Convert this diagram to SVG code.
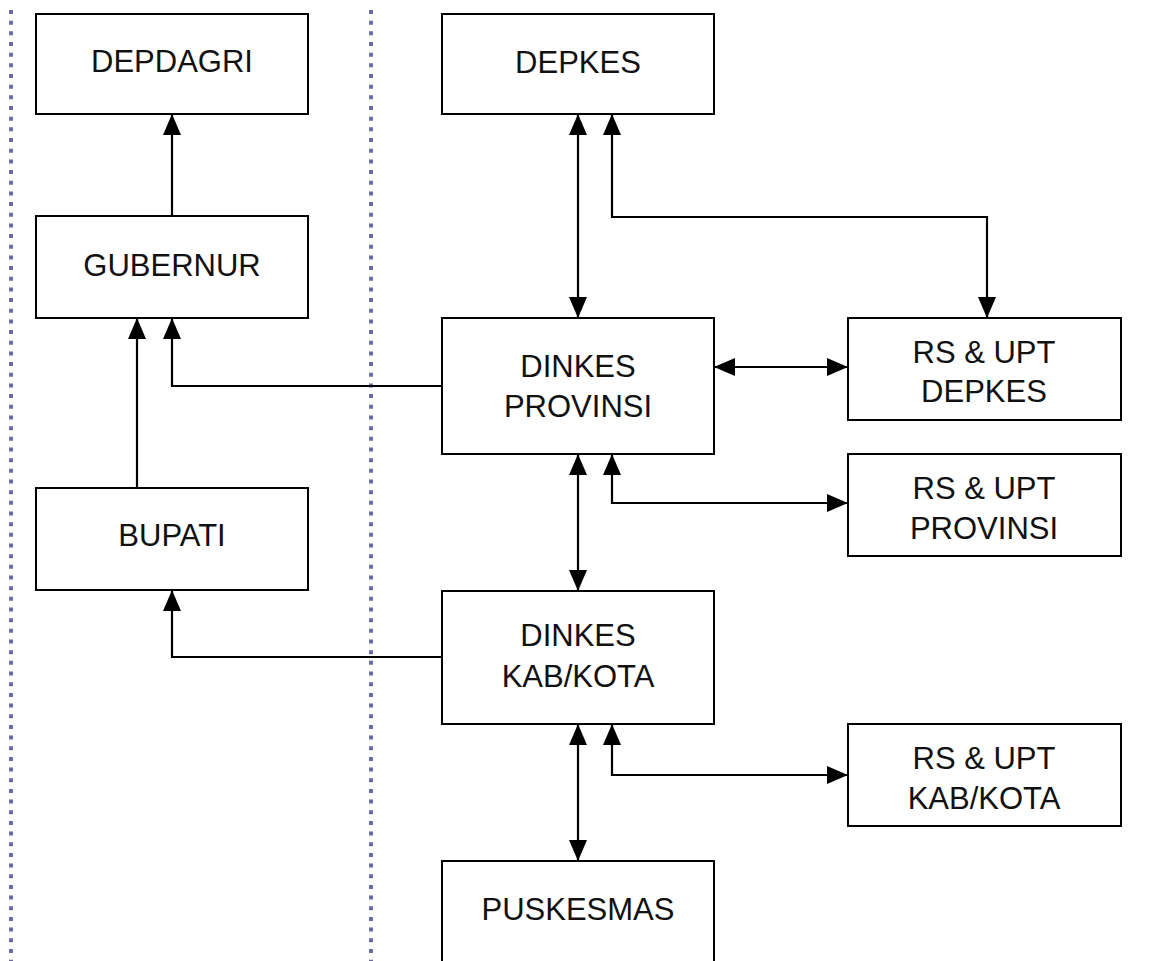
<svg xmlns="http://www.w3.org/2000/svg" width="1158" height="961" viewBox="0 0 1158 961">
<style>
.box{fill:#fff;stroke:#000;stroke-width:2}
.lbl{font-family:"Liberation Sans",Arial,sans-serif;font-size:31px;fill:#111;text-anchor:middle}
.con{fill:none;stroke:#000;stroke-width:2.2}
.dot{stroke:#6b6ba5;stroke-width:4;stroke-dasharray:4 6.67}
</style>
<defs>
<marker id="ah" markerUnits="userSpaceOnUse" markerWidth="22" markerHeight="20" refX="21" refY="9" orient="auto-start-reverse" viewBox="0 0 22 18">
<path d="M0,0 L21,9 L0,18 Z" fill="#000"/>
</marker>
</defs>
<rect width="1158" height="961" fill="#fff"/>
<g id="dividers">
<line class="dot" x1="11" y1="10" x2="11" y2="961"/>
<line class="dot" x1="371" y1="10" x2="371" y2="961"/>
</g>
<g id="connectors">
<path class="con" d="M172,216 V114" marker-end="url(#ah)"/>
<path class="con" d="M137,488 V318" marker-end="url(#ah)"/>
<path class="con" d="M442,386 H172 V318" marker-end="url(#ah)"/>
<path class="con" d="M442,657 H172 V590" marker-end="url(#ah)"/>
<path class="con" d="M578,114 V318" marker-start="url(#ah)" marker-end="url(#ah)"/>
<path class="con" d="M612,114 V217 H987 V318" marker-start="url(#ah)" marker-end="url(#ah)"/>
<path class="con" d="M714,367 H848" marker-start="url(#ah)" marker-end="url(#ah)"/>
<path class="con" d="M578,454 V591" marker-start="url(#ah)" marker-end="url(#ah)"/>
<path class="con" d="M612,454 V503 H848" marker-start="url(#ah)" marker-end="url(#ah)"/>
<path class="con" d="M578,724 V861" marker-start="url(#ah)" marker-end="url(#ah)"/>
<path class="con" d="M612,724 V775 H848" marker-start="url(#ah)" marker-end="url(#ah)"/>
</g>
<g id="depdagri"><rect class="box" x="36" y="14" width="272" height="100"/><text class="lbl" x="172" y="72">DEPDAGRI</text></g>
<g id="gubernur"><rect class="box" x="36" y="216" width="272" height="102"/><text class="lbl" x="172" y="276">GUBERNUR</text></g>
<g id="bupati"><rect class="box" x="36" y="488" width="272" height="102"/><text class="lbl" x="172" y="546">BUPATI</text></g>
<g id="depkes"><rect class="box" x="442" y="14" width="272" height="100"/><text class="lbl" x="578" y="73">DEPKES</text></g>
<g id="dinkes-provinsi"><rect class="box" x="442" y="318" width="272" height="136"/><text class="lbl" x="578" y="377">DINKES</text><text class="lbl" x="578" y="417">PROVINSI</text></g>
<g id="dinkes-kabkota"><rect class="box" x="442" y="591" width="272" height="133"/><text class="lbl" x="578" y="646">DINKES</text><text class="lbl" x="578" y="687">KAB/KOTA</text></g>
<g id="puskesmas"><rect class="box" x="442" y="861" width="272" height="110"/><text class="lbl" x="578" y="920">PUSKESMAS</text></g>
<g id="rs-depkes"><rect class="box" x="848" y="318" width="273" height="102"/><text class="lbl" x="984" y="363">RS &amp; UPT</text><text class="lbl" x="984" y="402">DEPKES</text></g>
<g id="rs-provinsi"><rect class="box" x="848" y="454" width="273" height="102"/><text class="lbl" x="984" y="499">RS &amp; UPT</text><text class="lbl" x="984" y="539">PROVINSI</text></g>
<g id="rs-kabkota"><rect class="box" x="848" y="724" width="273" height="102"/><text class="lbl" x="984" y="769">RS &amp; UPT</text><text class="lbl" x="984" y="809">KAB/KOTA</text></g>
</svg>
